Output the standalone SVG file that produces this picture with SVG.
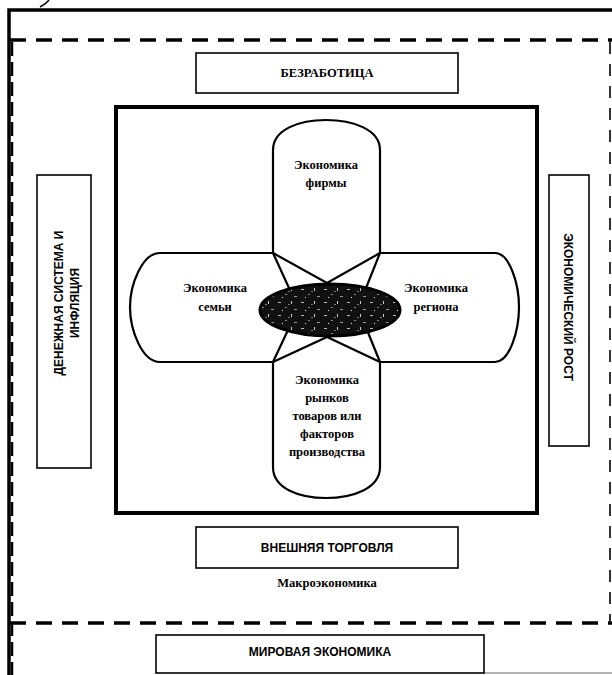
<svg xmlns="http://www.w3.org/2000/svg" width="612" height="675" viewBox="0 0 612 675">
<style>
.frame{fill:none;stroke:#000;stroke-width:3.5}
.dash{fill:none;stroke:#000;stroke-width:3.5;stroke-dasharray:16 10}
.box{fill:#fff;stroke:#000;stroke-width:1.6}
.cap{fill:#fff;stroke:#000;stroke-width:2.2;stroke-linejoin:round}
.ln{fill:none;stroke:#000;stroke-width:2.2}
.t{font-family:"Liberation Serif","DejaVu Serif",serif;font-weight:bold;font-size:12.5px;text-anchor:middle;fill:#000}
.s{font-family:"Liberation Sans","DejaVu Sans",sans-serif;font-weight:bold;font-size:12px;text-anchor:middle;fill:#000}
</style>
<defs>
<pattern id="speck" width="23" height="13" patternUnits="userSpaceOnUse">
<rect width="23" height="13" fill="#111"/>
<rect x="2" y="3" width="3" height="1" fill="#bbb"/>
<rect x="9" y="8" width="2" height="1" fill="#888"/>
<rect x="15" y="2" width="1" height="3" fill="#ccc"/>
<rect x="18" y="10" width="3" height="1" fill="#999"/>
<rect x="6" y="11" width="1" height="1" fill="#eee"/>
<rect x="12" y="5" width="2" height="1" fill="#777"/>
</pattern>
</defs>

<g id="outer-frame">
<path class="frame" d="M9,675 V10 H612"/>
<path class="dash" d="M10,40 H612"/>
<path class="dash" d="M10,623 H612"/>
<path fill="none" stroke="#000" stroke-width="2.5" stroke-dasharray="14 6" d="M12,42 V675"/>
<path fill="none" stroke="#333" stroke-width="2" stroke-dasharray="12 10" d="M610,42 V622"/>
<path fill="none" stroke="#000" stroke-width="1.5" d="M40,7 Q46,4 49,0"/>
<path fill="none" stroke="#999" stroke-width="1.5" d="M484,673 H612"/>
</g>

<g id="unemployment">
<rect class="box" x="196" y="53" width="262" height="40"/>
<text class="t" x="327" y="77">БЕЗРАБОТИЦА</text>
</g>

<g id="micro-square">
<rect x="116" y="107" width="421" height="406" fill="none" stroke="#000" stroke-width="4"/>
</g>

<g id="family">
<path class="cap" d="M273,253 H160 C142,253 130,285 130,307 C130,330 142,362 160,362 H273"/>
<text class="t" x="215" y="292">Экономика</text>
<text class="t" x="215" y="311">семьи</text>
</g>

<g id="region">
<path class="cap" d="M380,253 H495 C510,253 519,285 519,307 C519,330 510,362 495,362 H380"/>
<text class="t" x="436" y="292">Экономика</text>
<text class="t" x="436" y="311">региона</text>
</g>

<g id="firm">
<path class="cap" d="M273,253 V150 C273,129 300,120 326,120 C352,120 380,129 380,150 V253"/>
<text class="t" x="326" y="169">Экономика</text>
<text class="t" x="326" y="187">фирмы</text>
</g>

<g id="markets">
<path class="cap" d="M273,362 V467 C273,489 300,498 326,498 C352,498 380,489 380,467 V362"/>
<text class="t" x="327" y="384">Экономика</text>
<text class="t" x="327" y="402">рынков</text>
<text class="t" x="327" y="420">товаров или</text>
<text class="t" x="327" y="438">факторов</text>
<text class="t" x="327" y="456">производства</text>
</g>

<g id="connectors">
<path class="ln" d="M273,253 L327,283 L380,253"/>
<path class="ln" d="M273,253 L289,288"/>
<path class="ln" d="M380,253 L366,288"/>
<path class="ln" d="M273,362 L327,337 L380,362"/>
<path class="ln" d="M273,362 L288,330"/>
<path class="ln" d="M380,362 L367,330"/>
</g>

<g id="core">
<ellipse cx="330" cy="310" rx="70" ry="26" fill="url(#speck)" stroke="#000" stroke-width="3"/>
</g>

<g id="money">
<rect class="box" x="37" y="175" width="54" height="293"/>
<text class="s" transform="translate(63,303) rotate(-90)">ДЕНЕЖНАЯ СИСТЕМА И</text>
<text class="s" transform="translate(79,303) rotate(-90)">ИНФЛЯЦИЯ</text>
</g>

<g id="growth">
<rect class="box" x="549" y="175" width="40" height="271"/>
<text class="s" transform="translate(564,307) rotate(90)">ЭКОНОМИЧЕСКИЙ РОСТ</text>
</g>

<g id="trade">
<rect class="box" x="196" y="527" width="262" height="41"/>
<text class="s" x="327" y="552">ВНЕШНЯЯ ТОРГОВЛЯ</text>
</g>

<text class="t" x="327" y="587" font-size="10">Макроэкономика</text>

<g id="world">
<rect class="box" x="156" y="635" width="328" height="38"/>
<text class="s" x="320" y="656">МИРОВАЯ ЭКОНОМИКА</text>
</g>
</svg>
